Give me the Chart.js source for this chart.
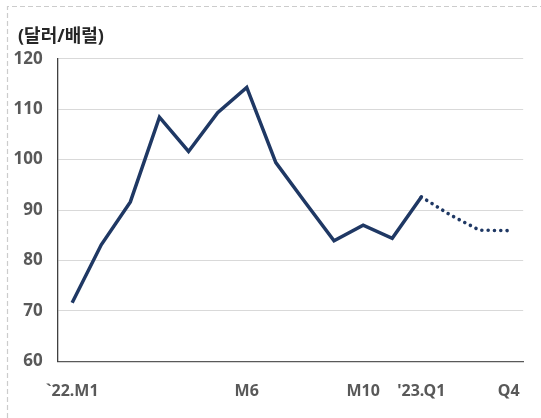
<!DOCTYPE html>
<html>
<head>
<meta charset="utf-8">
<script src="https://cdn.jsdelivr.net/npm/chart.js@4/dist/chart.umd.min.js"></script>
<style>
  body { margin: 0; background: #fff; }
  #wrap { width: 541px; height: 418px; }
</style>
</head>
<body>
<div id="wrap"><canvas id="oil" width="541" height="418"></canvas></div>
<script>
const ctx = document.getElementById("oil").getContext("2d");

// 22년 월별 실적 + 23년 분기 전망
const periods = [
  "`22.M1", "M2", "M3", "M4", "M5", "M6a", "M6", "M7", "M8", "M9",
  "M10", "M11", "'23.Q1", "Q2", "Q3", "Q4",
];
const tickLabels = [
  "`22.M1", "", "", "", "", "", "M6", "", "", "", "M10", "", "'23.Q1", "", "", "Q4",
];
const actual = [71.6, 83.1, 91.6, 108.4, 101.6, 109.3, 114.3, 99.4, 91.6, 83.9, 87.0, 84.4, 92.6, null, null, null];
const forecast = [null, null, null, null, null, null, null, null, null, null, null, null, 92.6, 89.0, 86.0, 85.9];
const unitLabel = "(달러/배럴)";

const navy = "#1F3864";
const font = "'Noto Sans', 'Noto Sans CJK KR', sans-serif";

/* 바깥 점선 테두리 + 단위 표시 */
const frame = {
  id: "frame",
  beforeDraw(chart) {
    const c = chart.ctx;
    c.save();
    c.strokeStyle = "#cccccc";
    c.lineWidth = 1.2;
    c.setLineDash([5, 3]);
    c.beginPath();
    c.moveTo(7.5, 418);
    c.lineTo(7.5, 6.5);
    c.lineTo(541, 6.5);
    c.stroke();
    c.restore();
  },
  afterDraw(chart) {
    const c = chart.ctx;
    c.save();
    c.fillStyle = "#262626";
    c.font = "bold 18px " + font;
    c.textBaseline = "middle";
    c.fillText(unitLabel, 18, 36.5);
    c.restore();
  },
};

let oilChart = new Chart(ctx, {
  type: "line",
  data: {
    labels: periods,
    datasets: [
      {
        data: actual,
        borderColor: navy,
        borderWidth: 3.5,
        pointRadius: 0,
        tension: 0,
      },
      {
        data: forecast,
        borderColor: navy,
        borderWidth: 3.6,
        borderDash: [0.01, 6.3],
        borderCapStyle: "round",
        pointRadius: 0,
        tension: 0,
      },
    ],
  },
  options: {
    responsive: false,
    animation: false,
    layout: {
      padding: { left: 13, right: 15, top: 58.7, bottom: 0 },
    },
    scales: {
      x: {
        offset: true,
        afterFit(scale) {
          scale.height = 56.7;
        },
        grid: { display: false, drawTicks: false },
        border: { color: "#595959", width: 1.3 },
        ticks: {
          autoSkip: false,
          maxRotation: 0,
          padding: 21,
          color: "#595959",
          font: { family: font, size: 16, weight: "bold" },
          callback: (v, i) => tickLabels[i],
        },
      },
      y: {
        min: 60,
        max: 120,
        afterFit(scale) {
          scale.width = 44.6;
        },
        grid: { color: "#d9d9d9", lineWidth: 1, drawTicks: false },
        border: { color: "#404040", width: 1.3 },
        ticks: {
          stepSize: 10,
          padding: 15,
          color: "#595959",
          font: { family: font, size: 17, weight: "bold" },
        },
      },
    },
    plugins: {
      legend: { display: false },
      tooltip: { enabled: false },
    },
  },
  plugins: [frame],
});
</script>
</body>
</html>
